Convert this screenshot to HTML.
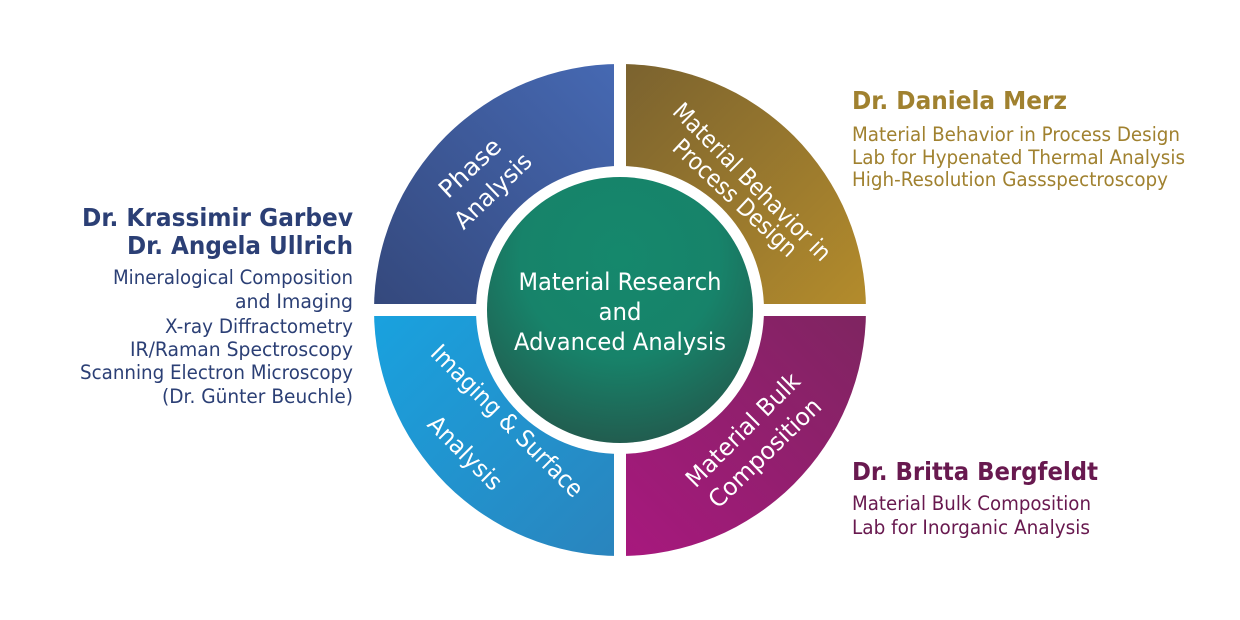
<!DOCTYPE html>
<html><head><meta charset="utf-8"><style>html,body{margin:0;padding:0;background:#fff}svg{display:block}</style></head>
<body>
<svg width="1240" height="620" viewBox="0 0 1240 620" xmlns="http://www.w3.org/2000/svg" font-family="'DejaVu Sans','Liberation Sans',sans-serif">
<defs>
<linearGradient id="gtl" x1="1" y1="0" x2="0" y2="1"><stop offset="0" stop-color="#4669b3"/><stop offset="1" stop-color="#34487c"/></linearGradient>
<linearGradient id="gtr" x1="0" y1="0" x2="1" y2="1"><stop offset="0" stop-color="#7a622f"/><stop offset="1" stop-color="#b48c2c"/></linearGradient>
<linearGradient id="gbr" x1="1" y1="0" x2="0" y2="1"><stop offset="0" stop-color="#7e2560"/><stop offset="1" stop-color="#a8187e"/></linearGradient>
<linearGradient id="gbl" x1="0" y1="0" x2="1" y2="1"><stop offset="0" stop-color="#19a2df"/><stop offset="1" stop-color="#2a84bd"/></linearGradient>
<radialGradient id="gc" cx="0.5" cy="0.3" r="0.75"><stop offset="0" stop-color="#15886c"/><stop offset="0.5" stop-color="#17836a"/><stop offset="1" stop-color="#23574b"/></radialGradient>
</defs>
<path d="M620,310 L374,310 A246,246 0 0 1 620,64 Z" fill="url(#gtl)"/>
<path d="M620,310 L620,64 A246,246 0 0 1 866,310 Z" fill="url(#gtr)"/>
<path d="M620,310 L866,310 A246,246 0 0 1 620,556 Z" fill="url(#gbr)"/>
<path d="M620,310 L620,556 A246,246 0 0 1 374,310 Z" fill="url(#gbl)"/>
<rect x="614" y="55" width="12" height="510" fill="#fff"/>
<rect x="365" y="304" width="510" height="12" fill="#fff"/>
<circle cx="620" cy="310" r="144" fill="#fff"/>
<circle cx="620" cy="310" r="133" fill="url(#gc)"/>
<g fill="#fff" font-size="24" text-anchor="middle" dominant-baseline="central">
<text x="620" y="282" textLength="203" lengthAdjust="spacingAndGlyphs">Material Research</text>
<text x="620" y="312" textLength="43" lengthAdjust="spacingAndGlyphs">and</text>
<text x="620" y="342" textLength="212" lengthAdjust="spacingAndGlyphs">Advanced Analysis</text>
<text transform="translate(470,168) rotate(-43)" textLength="75" lengthAdjust="spacingAndGlyphs">Phase</text>
<text transform="translate(493,191) rotate(-44)" textLength="97" lengthAdjust="spacingAndGlyphs">Analysis</text>
<text transform="translate(752,182) rotate(45)" textLength="212" lengthAdjust="spacingAndGlyphs">Material Behavior in</text>
<text transform="translate(735,198) rotate(43)" textLength="160" lengthAdjust="spacingAndGlyphs">Process Design</text>
<text transform="translate(507,421) rotate(45)" textLength="204" lengthAdjust="spacingAndGlyphs">Imaging &amp; Surface</text>
<text transform="translate(465,453) rotate(45)" textLength="94" lengthAdjust="spacingAndGlyphs">Analysis</text>
<text transform="translate(743,430) rotate(-45)" textLength="150" lengthAdjust="spacingAndGlyphs">Material Bulk</text>
<text transform="translate(765,453) rotate(-44)" textLength="146" lengthAdjust="spacingAndGlyphs">Composition</text>
</g>
<g fill="#2b3f75" text-anchor="end">
<text x="353" y="226" font-size="25" font-weight="bold" textLength="271" lengthAdjust="spacingAndGlyphs">Dr. Krassimir Garbev</text>
<text x="353" y="254" font-size="25" font-weight="bold" textLength="226" lengthAdjust="spacingAndGlyphs">Dr. Angela Ullrich</text>
<g font-size="19.5">
<text x="353" y="284" textLength="240" lengthAdjust="spacingAndGlyphs">Mineralogical Composition</text>
<text x="353" y="308" textLength="118" lengthAdjust="spacingAndGlyphs">and Imaging</text>
<text x="353" y="333" textLength="188" lengthAdjust="spacingAndGlyphs">X-ray Diffractometry</text>
<text x="353" y="356" textLength="223" lengthAdjust="spacingAndGlyphs">IR/Raman Spectroscopy</text>
<text x="353" y="379" textLength="273" lengthAdjust="spacingAndGlyphs">Scanning Electron Microscopy</text>
<text x="353" y="403" textLength="191" lengthAdjust="spacingAndGlyphs">(Dr. Günter Beuchle)</text>
</g></g>
<g fill="#a0812f">
<text x="852" y="109" font-size="25" font-weight="bold" textLength="215" lengthAdjust="spacingAndGlyphs">Dr. Daniela Merz</text>
<g font-size="19.5">
<text x="852" y="141" textLength="328" lengthAdjust="spacingAndGlyphs">Material Behavior in Process Design</text>
<text x="852" y="164" textLength="333" lengthAdjust="spacingAndGlyphs">Lab for Hypenated Thermal Analysis</text>
<text x="852" y="186" textLength="316" lengthAdjust="spacingAndGlyphs">High-Resolution Gassspectroscopy</text>
</g></g>
<g fill="#68194f">
<text x="852" y="480" font-size="25" font-weight="bold" textLength="246" lengthAdjust="spacingAndGlyphs">Dr. Britta Bergfeldt</text>
<g font-size="19.5">
<text x="852" y="510" textLength="239" lengthAdjust="spacingAndGlyphs">Material Bulk Composition</text>
<text x="852" y="534" textLength="238" lengthAdjust="spacingAndGlyphs">Lab for Inorganic Analysis</text>
</g></g>
</svg>
</body></html>
